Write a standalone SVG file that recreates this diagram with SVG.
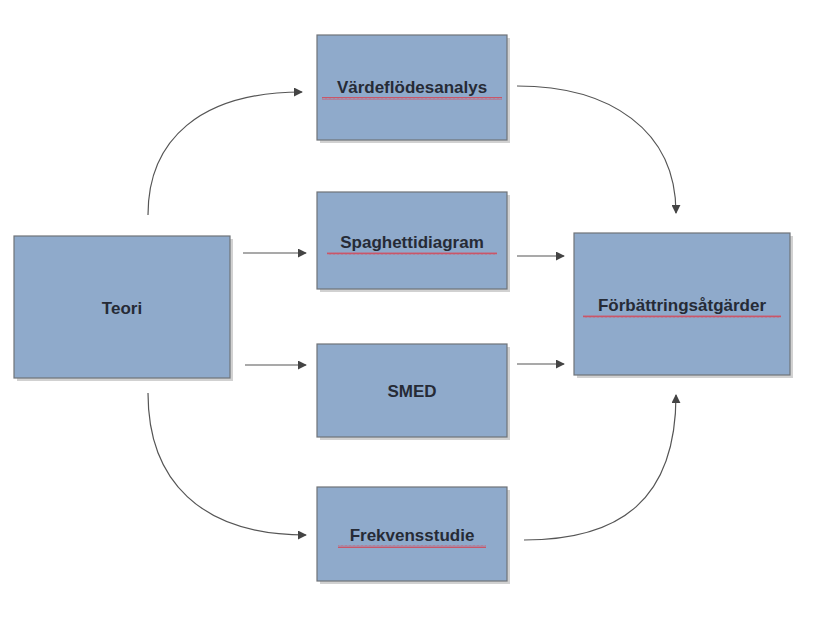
<svg xmlns="http://www.w3.org/2000/svg" width="813" height="626" viewBox="0 0 813 626">
<style>
.box{fill:#8faacb;stroke:#6f7378;stroke-width:1.2}
.sh{fill:#000;opacity:0.18}
.t{font-family:"Liberation Sans",Arial,sans-serif;font-weight:bold;font-size:17px;fill:#262b36;text-anchor:middle}
.c{fill:none;stroke:#555;stroke-width:1.2;marker-end:url(#a)}
.sq{fill:none;stroke:#d9404f;stroke-width:0.9}
</style>
<defs>
<marker id="a" viewBox="0 0 10 10" refX="9" refY="5" markerWidth="9" markerHeight="9" markerUnits="userSpaceOnUse" orient="auto"><path d="M0,0L10,5L0,10z" fill="#444"/></marker>
<pattern id="w" width="4" height="3" patternUnits="userSpaceOnUse"><path d="M0,2.5L1,0.5L2,2.5L3,0.5L4,2.5" fill="none" stroke="#d9404f" stroke-width="0.8"/></pattern>
</defs>
<rect width="813" height="626" fill="#fff"/>
<g id="connectors">
<path class="c" d="M148,215 C148,140 200,92 302,92"/>
<path class="c" d="M243,253 L306,253"/>
<path class="c" d="M245,365 L306,365"/>
<path class="c" d="M148,393 C148,480 200,535 306,535"/>
<path class="c" d="M517,86 C610,86 676,130 676,213"/>
<path class="c" d="M517,256 L564,256"/>
<path class="c" d="M517,364 L564,364"/>
<path class="c" d="M524,540 C620,540 676,500 676,395"/>
</g>
<g id="teori"><rect class="sh" x="17" y="239" width="216" height="142"/><rect class="box" x="14" y="236" width="216" height="142"/><text class="t" x="122" y="314">Teori</text></g>
<g id="vardeflodesanalys"><rect class="sh" x="320" y="38" width="190" height="105"/><rect class="box" x="317" y="35" width="190" height="105"/><text class="t" x="412" y="93">Värdeflödesanalys</text><rect x="322" y="97" width="180" height="3" fill="url(#w)"/></g>
<g id="spaghettidiagram"><rect class="sh" x="320" y="195" width="190" height="97"/><rect class="box" x="317" y="192" width="190" height="97"/><text class="t" x="412" y="248">Spaghettidiagram</text><rect x="327" y="252" width="170" height="3" fill="url(#w)"/></g>
<g id="smed"><rect class="sh" x="320" y="347" width="190" height="93"/><rect class="box" x="317" y="344" width="190" height="93"/><text class="t" x="412" y="397">SMED</text></g>
<g id="frekvensstudie"><rect class="sh" x="320" y="490" width="190" height="94"/><rect class="box" x="317" y="487" width="190" height="94"/><text class="t" x="412" y="541">Frekvensstudie</text><rect x="338" y="545" width="148" height="3" fill="url(#w)"/></g>
<g id="forbattringsatgarder"><rect class="sh" x="577" y="236" width="216" height="142"/><rect class="box" x="574" y="233" width="216" height="142"/><text class="t" x="682" y="311">Förbättringsåtgärder</text><rect x="583" y="315" width="198" height="3" fill="url(#w)"/></g>
</svg>
